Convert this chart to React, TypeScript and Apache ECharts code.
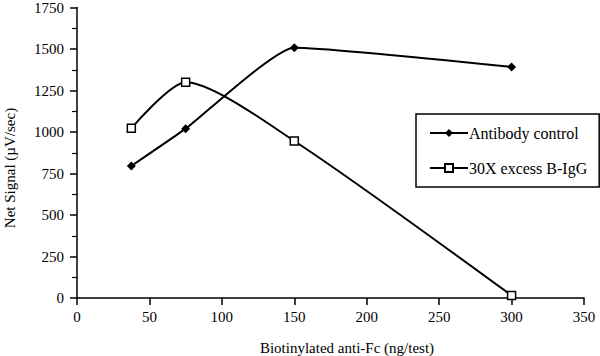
import React, { useEffect, useRef } from "react";
import * as echarts from "echarts";

const xValues = [37.5, 75, 150, 300];
const antibodyControl = [795, 1020, 1508, 1392];
const excessBIgG = [1022, 1300, 946, 15];
const seriesNames = ["Antibody control", "30X excess B-IgG"];
const xAxisTitle = "Biotinylated anti-Fc (ng/test)";
const yAxisTitle = "Net Signal (\u00b5V/sec)";

const FONT = "Liberation Serif";

export default function App() {
  const ref = useRef<HTMLDivElement>(null);
  useEffect(() => {
    if (!ref.current) return;
    const chart = echarts.init(ref.current, undefined, { renderer: "svg" });
    chart.setOption({
      animation: false,
      backgroundColor: "#ffffff",
      textStyle: { fontFamily: FONT, color: "#000" },
      grid: { left: 77, right: 16, top: 6, bottom: 58, containLabel: false },
      legend: {
        orient: "vertical",
        left: 416,
        top: 114,
        width: 182,
        padding: [11, 12, 11, 13],
        itemGap: 19,
        itemWidth: 38,
        itemHeight: 10,
        borderColor: "#000",
        borderWidth: 1.5,
        backgroundColor: "#fff",
        textStyle: { fontFamily: FONT, fontSize: 16, color: "#000", padding: [0, 0, 0, -4] },
        data: seriesNames,
      },
      xAxis: {
        type: "value",
        min: 0,
        max: 350,
        interval: 50,
        axisLine: { lineStyle: { color: "#000", width: 1.5 } },
        axisTick: { show: true, length: 7, lineStyle: { color: "#000", width: 1.5 } },
        axisLabel: { fontFamily: FONT, fontSize: 15, color: "#000", margin: 11, formatter: (v: number) => String(v) },
        splitLine: { show: false },
      },
      yAxis: {
        type: "value",
        min: 0,
        max: 1750,
        interval: 250,
        axisLine: { show: true, lineStyle: { color: "#000", width: 1.5 } },
        axisTick: { show: true, length: 7, lineStyle: { color: "#000", width: 1.5 } },
        minorTick: { show: true, splitNumber: 2, length: 5, lineStyle: { color: "#000", width: 1.2 } },
        axisLabel: { fontFamily: FONT, fontSize: 15, color: "#000", margin: 13, formatter: (v: number) => String(v) },
        splitLine: { show: false },
      },
      graphic: [
        {
          type: "text",
          x: 10,
          y: 168,
          rotation: Math.PI / 2,
          style: {
            text: yAxisTitle,
            fontFamily: FONT,
            fontSize: 15,
            fill: "#000",
            align: "center",
            verticalAlign: "middle",
          },
        },
        {
          type: "text",
          x: 347,
          y: 348,
          style: {
            text: xAxisTitle,
            fontFamily: FONT,
            fontSize: 15,
            fill: "#000",
            align: "center",
            verticalAlign: "middle",
          },
        },
      ],
      series: [
        {
          name: seriesNames[0],
          type: "line",
          smooth: 0.15,
          data: xValues.map((x, i) => [x, antibodyControl[i]]),
          symbol: "diamond",
          symbolSize: 9,
          itemStyle: { color: "#000" },
          lineStyle: { color: "#000", width: 2 },
        },
        {
          name: seriesNames[1],
          type: "line",
          smooth: 0.25,
          data: xValues.map((x, i) => [x, excessBIgG[i]]),
          symbol: "rect",
          symbolSize: 8,
          itemStyle: { color: "#fff", borderColor: "#000", borderWidth: 1.5 },
          lineStyle: { color: "#000", width: 2 },
        },
      ],
    });
    return () => chart.dispose();
  }, []);
  return <div ref={ref} style={{ width: 600, height: 356, position: "absolute", left: 0, top: 0 }} />;
}
